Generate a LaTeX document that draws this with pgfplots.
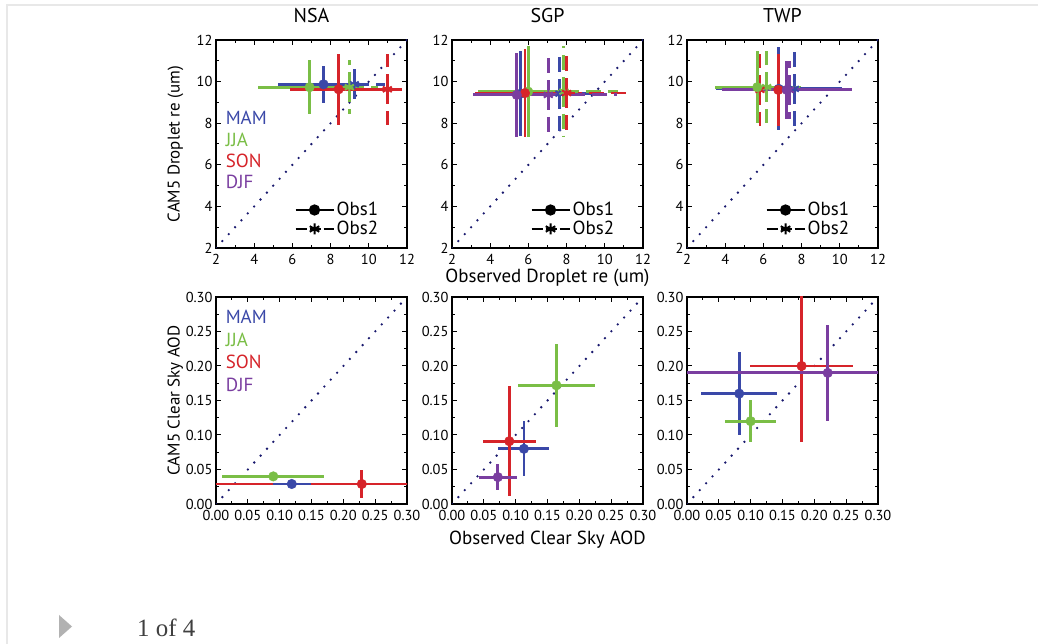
\documentclass[border=0pt]{standalone}
\usepackage{pgfplots}
\pgfplotsset{compat=1.18}
\usepackage{fontspec}
\setmainfont{PT Sans}
\newfontfamily\serifmain{Liberation Serif}
\definecolor{cMAM}{RGB}{58,72,168}
\definecolor{cJJA}{RGB}{122,190,70}
\definecolor{cSON}{RGB}{214,36,42}
\definecolor{cDJF}{RGB}{122,62,160}
\definecolor{cdiag}{RGB}{25,25,110}
\definecolor{frame}{RGB}{232,232,232}
\tikzset{season/.style={anchor=west, font=\fontsize{19}{21}\selectfont, inner sep=0pt}}
\pgfplotsset{
 longlegend/.style={legend image code/.code={\draw[mark repeat=2,mark phase=2,##1] plot coordinates {(0bp,0bp) (19bp,0bp) (38bp,0bp)};}},
 panel/.style={scale only axis, width=191bp, axis line style={line width=1.5bp},
   tick align=inside, xtick pos=both, ytick pos=both,
   major tick length=5bp, minor tick length=3bp,
   every tick/.style={black, line width=1bp},
   tick label style={font=\fontsize{14.5}{16}\selectfont},
   xticklabel style={yshift=-3bp},
   /pgf/number format/assume math mode=true, minor tick num=1,
   title style={font=\fontsize{20}{22}\selectfont, at={(0.5,1)}, anchor=base, yshift=12bp},
   xlabel style={font=\fontsize{19}{21}\selectfont},
   ylabel style={font=\fontsize{17}{19}\selectfont}},
 toprow/.style={panel, height=208bp, xmin=2, xmax=12, ymin=2, ymax=12,
   xtick={2,4,6,8,10,12}, ytick={2,4,6,8,10,12},
   legend style={draw=none, fill=none, font=\fontsize{19}{21}\selectfont,
     at={(0.86,0.045)}, anchor=south east, inner sep=0pt, row sep=0bp, cells={anchor=west}}},
 botrow/.style={panel, height=207bp, xmin=0, xmax=0.3, ymin=0, ymax=0.3,
   xtick={0,0.05,0.10,0.15,0.20,0.25,0.30}, ytick={0,0.05,0.10,0.15,0.20,0.25,0.30},
   xticklabel style={/pgf/number format/.cd, fixed, fixed zerofill, precision=2},
   yticklabel style={/pgf/number format/.cd, fixed, fixed zerofill, precision=2}},
 diag/.style={cdiag, line width=2.6bp, line cap=round, dash pattern=on 0bp off 9.4bp, forget plot},
 o1/.style={color=#1, only marks, mark=*, mark size=4.8bp, forget plot,
   error bars/.cd, x dir=both, x explicit, y dir=both, y explicit, error mark=none,
   error bar style={line width=2.9bp, color=#1, solid}},
 o2/.style={color=#1, only marks, mark=asterisk, mark size=5.2bp, mark options={line width=2bp, solid}, forget plot,
   error bars/.cd, x dir=both, x explicit, y dir=both, y explicit, error mark=none,
   error bar style={line width=2.9bp, color=#1, dash pattern=on 15bp off 7bp}},
}
\newcommand{\obslegend}{%
 \addlegendimage{black, line width=2.2bp, mark=*, mark size=4.5bp, longlegend}
 \addlegendentry{Obs1}
 \addlegendimage{black, line width=2.2bp, dash pattern=on 11bp off 3bp, mark=asterisk, mark size=5.5bp, mark options={solid, line width=2bp}, longlegend}
 \addlegendentry{Obs2}}
\begin{document}
\begin{tikzpicture}
\path[use as bounding box] (0bp,0bp) rectangle (1038bp,644bp);
\fill[white] (0bp,0bp) rectangle (1038bp,644bp);
\draw[frame, line width=1.5bp] (7bp,-5bp) -- (7bp,639bp) -- (1045bp,639bp);
\fill[black!30] (59bp,29bp) -- (72bp,17.5bp) -- (59bp,6bp) -- cycle;
\node[anchor=base west, inner sep=0pt, font=\serifmain\fontsize{25}{28}\selectfont, text=black!75] at (137bp,8bp) {1 of 4};

% ---------- top row: droplet re ----------
\begin{axis}[toprow, at={(216bp,396bp)}, title={NSA}, ylabel={CAM5 Droplet re (um)},
  ylabel style={at={(axis description cs:-0.19,0.5)}, anchor=base, rotate=0}]
\addplot[diag] coordinates {(2,2) (12,12)};
\addplot[o2=cMAM] coordinates {(9.24,9.87) +- (1.6,0.9)};
\addplot[o2=cJJA] coordinates {(8.98,9.73) +- (1.5,1.3)};
\addplot[o2=cSON] coordinates {(10.97,9.63) +- (2.0,1.72)};
\addplot[o1=cMAM] coordinates {(7.63,9.87) +- (2.4,0.9)};
\addplot[o1=cJJA] coordinates {(6.90,9.73) +- (2.7,1.3)};
\addplot[o1=cSON] coordinates {(8.42,9.63) +- (2.57,1.72)};
\node[season, text=cMAM] at (rel axis cs:0.05,0.625) {MAM};
\node[season, text=cJJA] at (rel axis cs:0.05,0.522) {JJA};
\node[season, text=cSON] at (rel axis cs:0.05,0.418) {SON};
\node[season, text=cDJF] at (rel axis cs:0.05,0.317) {DJF};
\obslegend
\end{axis}

\begin{axis}[toprow, at={(452bp,396bp)}, title={SGP}, xlabel={Observed Droplet re (um)},
  xlabel style={at={(axis description cs:0.5,0)}, anchor=base, yshift=-35bp}]
\addplot[diag] coordinates {(2,2) (12,12)};
\addplot[o2=cMAM] coordinates {(7.65,9.42) +- (1.8,2.05)};
\addplot[o2=cJJA] coordinates {(7.86,9.52) +- (2.85,2.17)};
\addplot[o2=cSON] coordinates {(8.00,9.45) +- (3.4,2.1)};
\addplot[o2=cDJF] coordinates {(7.04,9.36) +- (3.6,2.0)};
\addplot[o1=cMAM] coordinates {(5.60,9.42) +- (2.4,2.05)};
\addplot[o1=cJJA] coordinates {(5.99,9.52) +- (2.63,2.17)};
\addplot[o1=cSON] coordinates {(5.82,9.45) +- (2.6,2.1)};
\addplot[o1=cDJF] coordinates {(5.39,9.36) +- (2.3,2.0)};
\obslegend
\end{axis}

\begin{axis}[toprow, at={(687bp,396bp)}, title={TWP}]
\addplot[diag] coordinates {(2,2) (12,12)};
\addplot[o2=cMAM] coordinates {(7.62,9.65) +- (2.4,2.0)};
\addplot[o2=cJJA] coordinates {(6.17,9.73) +- (1.8,1.72)};
\addplot[o2=cSON] coordinates {(5.82,9.60) +- (1.0,1.72)};
\addplot[o2=cDJF] coordinates {(7.35,9.60) +- (3.0,1.4)};
\addplot[o1=cMAM] coordinates {(6.80,9.65) +- (3.3,2.0)};
\addplot[o1=cJJA] coordinates {(5.68,9.73) +- (2.22,1.72)};
\addplot[o1=cSON] coordinates {(6.78,9.60) +- (1.5,1.72)};
\addplot[o1=cDJF] coordinates {(7.22,9.60) +- (3.4,1.4)};
\obslegend
\end{axis}

% ---------- bottom row: AOD ----------
\begin{axis}[botrow, at={(216bp,140bp)}, ylabel={CAM5 Clear Sky AOD},
  ylabel style={at={(axis description cs:-0.19,0.5)}, anchor=base, rotate=0}]
\addplot[diag] coordinates {(0,0) (0.3,0.3)};
\addplot[o1=cSON] coordinates {(0.229,0.029) +- (0.23,0.02)};
\addplot[o1=cJJA] coordinates {(0.090,0.040) +- (0.08,0.003)};
\addplot[o1=cMAM] coordinates {(0.119,0.029) +- (0.03,0.005)};
\node[season, text=cMAM] at (rel axis cs:0.05,0.905) {MAM};
\node[season, text=cJJA] at (rel axis cs:0.05,0.795) {JJA};
\node[season, text=cSON] at (rel axis cs:0.05,0.686) {SON};
\node[season, text=cDJF] at (rel axis cs:0.05,0.577) {DJF};
\end{axis}

\begin{axis}[botrow, at={(452bp,140bp)}, xlabel={Observed Clear Sky AOD},
  xlabel style={at={(axis description cs:0.5,0)}, anchor=base, yshift=-40bp}]
\addplot[diag] coordinates {(0,0) (0.3,0.3)};
\addplot[o1=cMAM] coordinates {(0.113,0.080) +- (0.040,0.040)};
\addplot[o1=cJJA] coordinates {(0.164,0.172) +- (0.061,0.060)};
\addplot[o1=cSON] coordinates {(0.090,0.091) +- (0.042,0.080)};
\addplot[o1=cDJF] coordinates {(0.072,0.039) +- (0.030,0.019)};
\end{axis}

\begin{axis}[botrow, at={(687bp,140bp)}]
\addplot[diag] coordinates {(0,0) (0.3,0.3)};
\addplot[o1=cMAM] coordinates {(0.082,0.160) +- (0.060,0.060)};
\addplot[o1=cJJA] coordinates {(0.100,0.120) +- (0.040,0.030)};
\addplot[o1=cSON] coordinates {(0.180,0.200) +- (0.081,0.110)};
\addplot[o1=cDJF] coordinates {(0.221,0.190) +- (0.240,0.070)};
\end{axis}
\end{tikzpicture}
\end{document}
